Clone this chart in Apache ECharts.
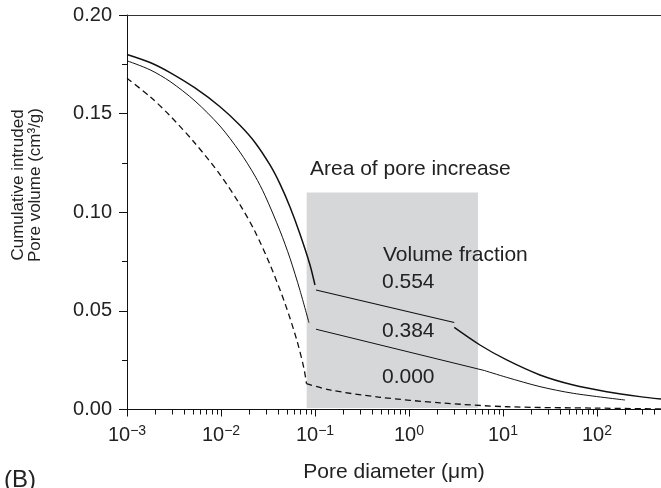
<!DOCTYPE html>
<html>
<head>
<meta charset="utf-8">
<script src="https://cdn.jsdelivr.net/npm/echarts@6/dist/echarts.min.js"></script>
<style>
html, body { margin: 0; padding: 0; background: #fff; }
#chart { width: 661px; height: 488px; }
</style>
</head>
<body>
<div id="chart"></div>
<script>
// pore diameter (um) vs cumulative intruded volume (cm3/g)
var topLeft = [[0.001, 0.180], [0.00176, 0.1759], [0.00287, 0.1708], [0.00529, 0.1630], [0.00976, 0.1535],
    [0.0159, 0.1441], [0.0230, 0.1354], [0.0332, 0.1240], [0.0424, 0.1144], [0.0542, 0.1027],
    [0.0692, 0.0890], [0.0885, 0.0733], [0.100, 0.0631]]
var topMid = [[0.1025, 0.0606], [3.03, 0.0441]]
var topRight = [[3.03, 0.0416], [5.69, 0.0327], [10.95, 0.0251], [24.75, 0.0175], [56, 0.0124], [126.8, 0.0090], [286, 0.0065], [480, 0.0053]]

var midLeft = [[0.001, 0.1768], [0.00176, 0.1722], [0.00287, 0.1663], [0.00529, 0.1564], [0.00976, 0.1437],
    [0.0159, 0.1305], [0.0230, 0.1184], [0.0294, 0.1085], [0.0424, 0.0906], [0.0542, 0.0767],
    [0.0692, 0.0604], [0.0863, 0.0440]]
var midMid = [[0.1025, 0.0407], [6.3, 0.0198]]
var midRight = [[6.3, 0.0198], [10.95, 0.0163], [24.75, 0.0116], [56, 0.0082], [198.6, 0.0048]]

var dashLeft = [[0.001, 0.1679], [0.00176, 0.1586], [0.00287, 0.1489], [0.00529, 0.1350], [0.00976, 0.1191],
    [0.0159, 0.1039], [0.0230, 0.0902], [0.0332, 0.0735], [0.0480, 0.0537], [0.0643, 0.0349],
    [0.0764, 0.0207], [0.0812, 0.0131]]
var dashRight = [[0.0812, 0.0131], [0.144, 0.0099], [0.491, 0.0062], [2.14, 0.0034], [10.95, 0.0014], [100, 0.0007], [480, 0.0003]]

var shadeArea = [[0.0816, 0.0008], [5.42, 0.110]] // area of pore increase
var fractions = ['0.554', '0.384', '0.000']
var minorTicks = [0.002, 0.003, 0.004, 0.005, 0.006, 0.007, 0.008, 0.009,
    0.02, 0.03, 0.04, 0.05, 0.06, 0.07, 0.08, 0.09,
    0.2, 0.3, 0.4, 0.5, 0.6, 0.7, 0.8, 0.9,
    2, 3, 4, 5, 6, 7, 8, 9,
    20, 30, 40, 50, 60, 70, 80, 90,
    200, 300, 400]

var ink = '#111'
var font = '"Liberation Sans", Arial, Helvetica, sans-serif'

function lineSeries(data, width, dashed, smooth) {
    return {
        type: 'line',
        data: data,
        smooth: smooth,
        showSymbol: false,
        silent: true,
        z: 3,
        lineStyle: { color: ink, width: width, type: dashed ? [6, 4] : 'solid' }
    }
}

function label(text, x, y, size, extra) {
    var el = {
        type: 'text', x: x, y: y, z: 10,
        style: { text: text, font: size + 'px ' + font, fill: '#222', textAlign: 'left', textVerticalAlign: 'middle' }
    }
    if (extra) {
        for (var k in extra) el[k] = extra[k]
        if (extra.textAlign) el.style.textAlign = extra.textAlign
    }
    return el
}

var option = {
    animation: false,
    grid: { left: 127, right: 0, top: 15, bottom: 78.5 },
    xAxis: [{
        type: 'log',
        logBase: 10,
        min: 0.001,
        max: 480,
        axisLine: { lineStyle: { color: ink, width: 1 } },
        axisTick: { length: 7, lineStyle: { color: ink } },
        splitLine: { show: false },
        axisLabel: {
            margin: 15,
            showMaxLabel: false,
            color: '#222',
            fontFamily: font,
            formatter: function (v) {
                var e = Math.round(Math.log10(v))
                return '{b|10}{s|' + (e < 0 ? '\u2212' + (-e) : e) + '}'
            },
            rich: {
                b: { fontSize: 20, lineHeight: 22, fontFamily: font, color: '#222' },
                s: { fontSize: 14, lineHeight: 14, verticalAlign: 'top', fontFamily: font, color: '#222' }
            }
        }
    }, {
        type: 'value',
        position: 'top',
        min: 0,
        max: 1,
        axisLine: { show: true, lineStyle: { color: '#333', width: 1 } },
        axisTick: { show: false },
        axisLabel: { show: false },
        splitLine: { show: false }
    }],
    yAxis: {
        type: 'value',
        min: 0,
        max: 0.2,
        interval: 0.05,
        axisLine: { show: true, lineStyle: { color: ink, width: 1 } },
        axisTick: { show: true, length: 8, lineStyle: { color: ink } },
        minorTick: { show: true, splitNumber: 2, length: 5, lineStyle: { color: ink } },
        splitLine: { show: false },
        axisLabel: {
            margin: 15,
            fontSize: 20,
            color: '#222',
            fontFamily: font,
            formatter: function (v) { return v.toFixed(2) }
        }
    },
    series: [
        {
            type: 'line',
            data: [],
            z: 1,
            silent: true,
            markArea: {
                silent: true,
                itemStyle: { color: '#d6d7d9' },
                data: [[{ coord: shadeArea[0] }, { coord: shadeArea[1] }]]
            }
        },
        lineSeries(topLeft, 1.5, false, 0.3),
        lineSeries(topMid, 1.1, false, false),
        lineSeries(topRight, 1.4, false, 0.3),
        lineSeries(midLeft, 1, false, 0.3),
        lineSeries(midMid, 1, false, false),
        lineSeries(midRight, 1, false, 0.3),
        lineSeries(dashLeft, 1.3, true, 0.3),
        lineSeries(dashRight, 1.3, true, 0.3),
        {
            type: 'custom',
            data: minorTicks.map(function (v) { return [v, 0] }),
            clip: false,
            silent: true,
            z: 4,
            renderItem: function (params, api) {
                var p = api.coord([api.value(0), 0])
                var x = Math.round(p[0]) + 0.5
                return {
                    type: 'line',
                    shape: { x1: x, y1: p[1], x2: x, y2: p[1] + 5 },
                    style: { stroke: ink, lineWidth: 1 }
                }
            }
        }
    ],
    graphic: [
        label('Cumulative intruded', 18.5, 185, 17, { rotation: Math.PI / 2, textAlign: 'center' }),
        label('Pore volume (cm\u00b3/g)', 35.5, 185, 17, { rotation: Math.PI / 2, textAlign: 'center' }),
        label('Pore diameter (\u03bcm)', 394, 472, 21, { textAlign: 'center' }),
        label('(B)', 4, 480, 24),
        label('Area of pore increase', 310, 169.5, 21),
        label('Volume fraction', 383, 255, 21),
        label(fractions[0], 382, 282.5, 21),
        label(fractions[1], 382, 331, 21),
        label(fractions[2], 382, 377.5, 21)
    ]
}

var myChart = echarts.init(document.getElementById('chart'))
myChart.setOption(option)
window.addEventListener('resize', function () {
    myChart.resize()
})
</script>
</body>
</html>
